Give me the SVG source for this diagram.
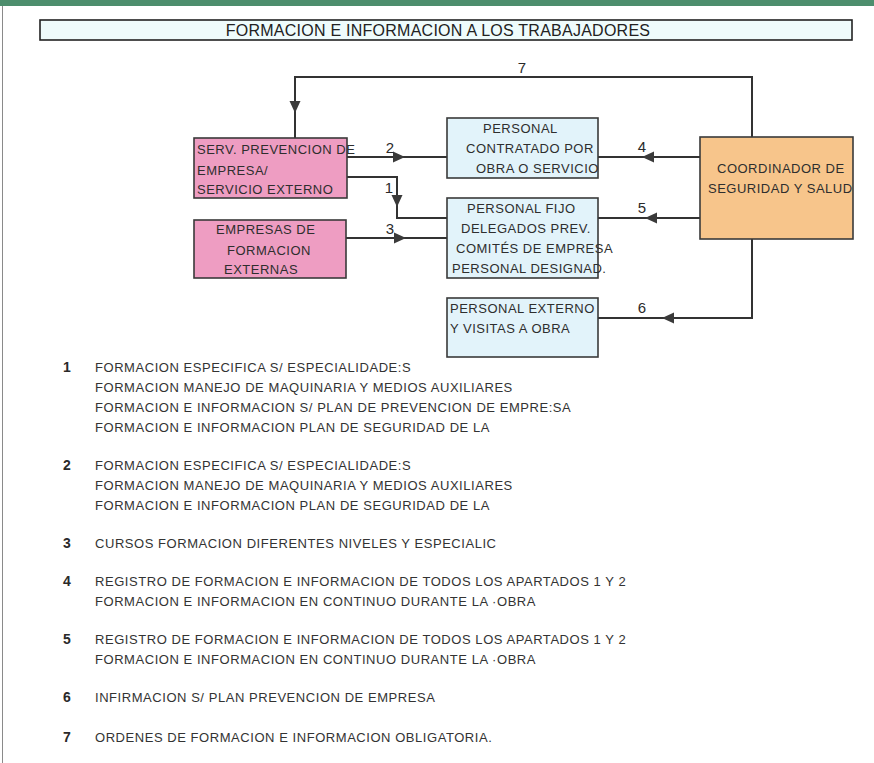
<svg xmlns="http://www.w3.org/2000/svg" xmlns:xlink="http://www.w3.org/1999/xlink" width="874" height="763" viewBox="0 0 874 763">
<style>
.bx{stroke:#3a3a3a;stroke-width:1.6}
.pink{fill:#ee9dc2}
.blue{fill:#e2f3fa}
.orange{fill:#f7c58b}
.t{font-family:"Liberation Sans",Arial,sans-serif;font-size:13px;letter-spacing:0.5px;fill:#2e2e2e}
.lg{font-family:"Liberation Sans",Arial,sans-serif;font-size:13px;letter-spacing:0.55px;fill:#333}
.num{font-family:"Liberation Sans",Arial,sans-serif;font-size:14px;font-weight:bold;fill:#2a2a2a;text-anchor:middle}
.cl{font-family:"Liberation Sans",Arial,sans-serif;font-size:15px;fill:#2a2a2a;text-anchor:middle}
.ln{fill:none;stroke:#333;stroke-width:2}
.ah{fill:#3a3a3a}
</style>
<defs>
<path id="ah" d="M0,0 L-12,-5.5 L-12,5.5 Z"/>
</defs>
<rect x="0" y="0" width="874" height="763" fill="#ffffff"/>
<rect x="0" y="0" width="874" height="6" fill="#4d8e6d"/>
<line x1="2.5" y1="6" x2="2.5" y2="763" stroke="#8a8a8a" stroke-width="1"/>

<g id="title">
<rect x="40" y="20" width="812" height="20" fill="#effcfc" stroke="#222" stroke-width="1.6"/>
<text x="438" y="35.5" font-family="Liberation Sans,Arial,sans-serif" font-size="16" letter-spacing="0.25" fill="#222" text-anchor="middle">FORMACION E INFORMACION A LOS TRABAJADORES</text>
</g>

<g id="connectors">
<path class="ln" d="M347,157 H447"/>
<path class="ln" d="M347,177 H397 V218 H447"/>
<path class="ln" d="M346,238 H447"/>
<path class="ln" d="M700,157 H598"/>
<path class="ln" d="M700,218 H598"/>
<path class="ln" d="M752,239 V318 H598"/>
<path class="ln" d="M752,137 V77 H295 V138"/>
<use xlink:href="#ah" class="ah" transform="translate(405,157)"/>
<use xlink:href="#ah" class="ah" transform="translate(406,238)"/>
<use xlink:href="#ah" class="ah" transform="translate(397,207) rotate(90)"/>
<use xlink:href="#ah" class="ah" transform="translate(295,113) rotate(90)"/>
<use xlink:href="#ah" class="ah" transform="translate(642,157) rotate(180)"/>
<use xlink:href="#ah" class="ah" transform="translate(645,218) rotate(180)"/>
<use xlink:href="#ah" class="ah" transform="translate(662,318) rotate(180)"/>
<text class="cl" x="522" y="73">7</text>
<text class="cl" x="390" y="153">2</text>
<text class="cl" x="389" y="193">1</text>
<text class="cl" x="390" y="234">3</text>
<text class="cl" x="642" y="152">4</text>
<text class="cl" x="642" y="213">5</text>
<text class="cl" x="642" y="313">6</text>
</g>

<g id="serv">
<rect class="bx pink" x="194" y="138" width="153" height="60"/>
<text class="t" x="197" y="154">SERV. PREVENCION DE</text>
<text class="t" x="197" y="175">EMPRESA/</text>
<text class="t" x="197" y="194">SERVICIO EXTERNO</text>
</g>

<g id="empresas">
<rect class="bx pink" x="194" y="220" width="152" height="58"/>
<text class="t" x="216" y="234">EMPRESAS DE</text>
<text class="t" x="227" y="255">FORMACION</text>
<text class="t" x="224" y="274">EXTERNAS</text>
</g>

<g id="contratado">
<rect class="bx blue" x="447" y="118" width="151" height="60"/>
<text class="t" x="483" y="133">PERSONAL</text>
<text class="t" x="466" y="153">CONTRATADO POR</text>
<text class="t" x="476" y="173">OBRA O SERVICIO</text>
</g>

<g id="fijo">
<rect class="bx blue" x="447" y="198" width="151" height="80"/>
<text class="t" x="467" y="213">PERSONAL FIJO</text>
<text class="t" x="461" y="233">DELEGADOS PREV.</text>
<text class="t" x="456" y="253">COMITÉS DE EMPRESA</text>
<text class="t" x="452" y="273">PERSONAL DESIGNAD.</text>
</g>

<g id="externo">
<rect class="bx blue" x="447" y="298" width="151" height="59"/>
<text class="t" x="450" y="313">PERSONAL EXTERNO</text>
<text class="t" x="450" y="333">Y VISITAS A OBRA</text>
</g>

<g id="coordinador">
<rect class="bx orange" x="700" y="137" width="153" height="102"/>
<text class="t" x="717" y="173">COORDINADOR DE</text>
<text class="t" x="708" y="193">SEGURIDAD Y SALUD</text>
</g>

<g id="legend">
<text class="num" x="67" y="372">1</text>
<text class="lg" x="95" y="372">FORMACION ESPECIFICA S/ ESPECIALIDADE:S</text>
<text class="lg" x="95" y="392">FORMACION MANEJO DE MAQUINARIA Y MEDIOS AUXILIARES</text>
<text class="lg" x="95" y="412">FORMACION E INFORMACION S/ PLAN DE PREVENCION DE EMPRE:SA</text>
<text class="lg" x="95" y="432">FORMACION E INFORMACION PLAN DE SEGURIDAD DE LA</text>
<text class="num" x="67" y="470">2</text>
<text class="lg" x="95" y="470">FORMACION ESPECIFICA S/ ESPECIALIDADE:S</text>
<text class="lg" x="95" y="490">FORMACION MANEJO DE MAQUINARIA Y MEDIOS AUXILIARES</text>
<text class="lg" x="95" y="510">FORMACION E INFORMACION PLAN DE SEGURIDAD DE LA</text>
<text class="num" x="67" y="548">3</text>
<text class="lg" x="95" y="548">CURSOS FORMACION DIFERENTES NIVELES Y ESPECIALIC</text>
<text class="num" x="67" y="586">4</text>
<text class="lg" x="95" y="586">REGISTRO DE FORMACION E INFORMACION DE TODOS LOS APARTADOS 1 Y 2</text>
<text class="lg" x="95" y="606">FORMACION E INFORMACION EN CONTINUO DURANTE LA ·OBRA</text>
<text class="num" x="67" y="644">5</text>
<text class="lg" x="95" y="644">REGISTRO DE FORMACION E INFORMACION DE TODOS LOS APARTADOS 1 Y 2</text>
<text class="lg" x="95" y="664">FORMACION E INFORMACION EN CONTINUO DURANTE LA ·OBRA</text>
<text class="num" x="67" y="702">6</text>
<text class="lg" x="95" y="702">INFIRMACION S/ PLAN PREVENCION DE EMPRESA</text>
<text class="num" x="67" y="742">7</text>
<text class="lg" x="95" y="742">ORDENES DE FORMACION E INFORMACION OBLIGATORIA.</text>
</g>
</svg>
